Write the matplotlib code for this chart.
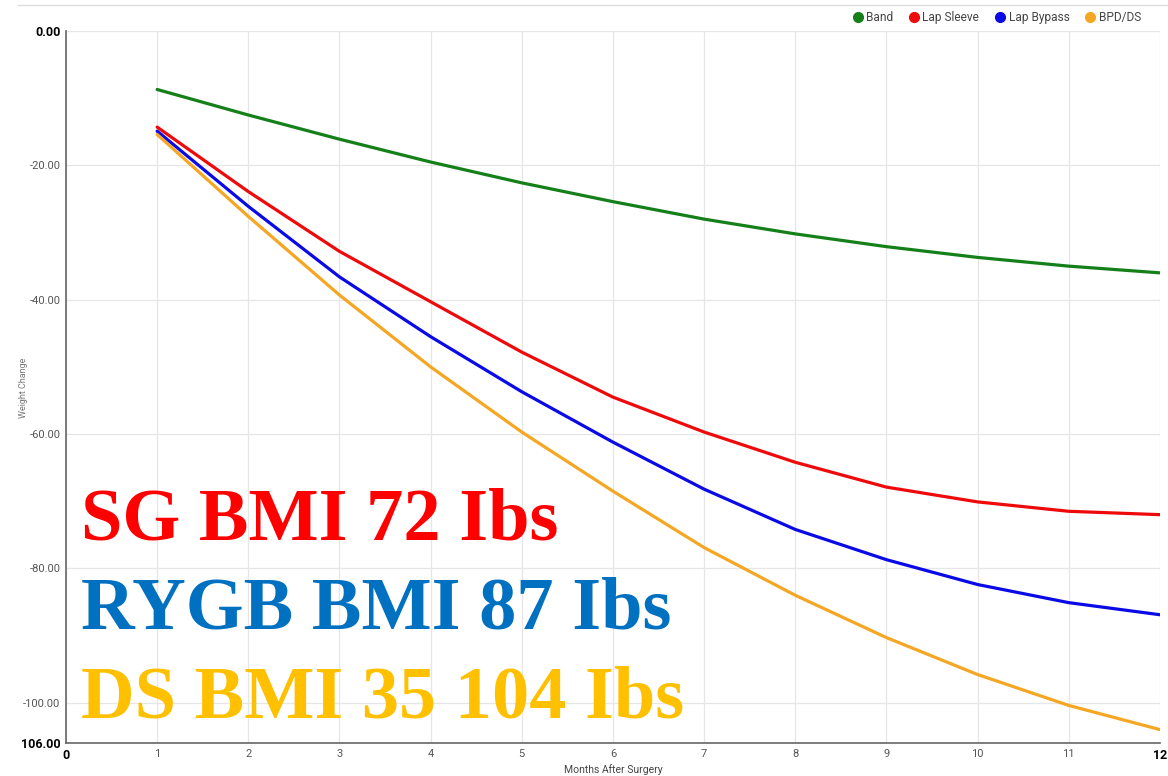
import matplotlib.pyplot as plt
from matplotlib.lines import Line2D

# months after surgery and weight change (lbs) per procedure
months = [1, 2, 3, 4, 5, 6, 7, 8, 9, 10, 11, 12]
band = [-8.7, -12.5, -16.1, -19.5, -22.6, -25.4, -28.0, -30.2, -32.1, -33.7, -35.0, -36.0]
lap_sleeve = [-14.3, -23.9, -32.8, -40.3, -47.8, -54.5, -59.7, -64.2, -67.9, -70.1, -71.5, -72.0]
lap_bypass = [-14.9, -26.1, -36.6, -45.5, -53.7, -61.2, -68.2, -74.2, -78.7, -82.4, -85.1, -86.9]
bpd_ds = [-15.4, -27.6, -39.3, -50.0, -59.7, -68.5, -76.9, -84.0, -90.3, -95.8, -100.4, -104.0]

series_names = ["Band", "Lap Sleeve", "Lap Bypass", "BPD/DS"]
series_colors = ["#15801a", "#ee0a0a", "#0a0ae6", "#f5a623"]

y_ticks = [0, -20, -40, -60, -80, -100, -106]
y_labels = ["0.00", "-20.00", "-40.00", "-60.00", "-80.00", "-100.00", "106.00"]
x_ticks = list(range(0, 13))

overlay_texts = ["SG BMI 72 Ibs", "RYGB BMI 87 Ibs", "DS BMI 35 104 Ibs"]
overlay_colors = ["#ff0000", "#0070c0", "#ffc000"]

plt.rcParams['font.family'] = ['Roboto', 'DejaVu Sans']

fig = plt.figure(figsize=(11.68, 7.76), dpi=100)
ax = fig.add_axes([0.0565, 0.0425, 0.9365, 0.9175])

for data, name, color in zip([band, lap_sleeve, lap_bypass, bpd_ds], series_names, series_colors):
    ax.plot(months, data, color=color, lw=2.3, label=name, solid_capstyle='round')

ax.set_xlim(0, 12)
ax.set_ylim(-106, 0)
ax.set_yticks(y_ticks)
ax.set_yticklabels(y_labels)
ax.set_xticks(x_ticks)
ax.grid(True, color="#e6e6e6", lw=0.9)
ax.set_axisbelow(True)
for s in ["top", "right"]:
    ax.spines[s].set_visible(False)
for s in ["left", "bottom"]:
    ax.spines[s].set_color("#666666")
    ax.spines[s].set_linewidth(1.2)
ax.tick_params(length=0, labelsize=8, colors="#555555", pad=4)
for lbl in ax.get_yticklabels():
    if lbl.get_text() in ("0.00", "106.00"):
        lbl.set_fontweight("bold")
        lbl.set_color("black")
        lbl.set_fontsize(9)
xl = ax.get_xticklabels()
for i in (0, len(xl) - 1):
    xl[i].set_fontweight("bold")
    xl[i].set_color("black")
    xl[i].set_fontsize(9)

ax.set_xlabel("Months After Surgery", fontsize=7.5, color="#444444", labelpad=2)
fig.text(0.02, 0.5, "Weight Change", rotation=90, fontsize=6.5, color="#777777",
         ha="center", va="center")

handles = [Line2D([], [], marker='o', ls='', color=c, markersize=7) for c in series_colors]
fig.legend(handles, series_names, loc="upper right", bbox_to_anchor=(0.986, 1.0), ncol=4,
           frameon=False, fontsize=8.6, handletextpad=0.25, columnspacing=1.3,
           handlelength=0.9, labelcolor="#444444")

fig.add_artist(Line2D([0.015, 1.0], [0.994, 0.994], color="#dddddd", lw=1))

for i, (txt, col) in enumerate(zip(overlay_texts, overlay_colors)):
    fig.text(0.069, 0.3054 - i * 0.1147, txt, color=col, fontsize=53.6, fontweight="bold",
             family="Liberation Serif", va="baseline", ha="left")

fig.savefig("out.png", dpi=100)
